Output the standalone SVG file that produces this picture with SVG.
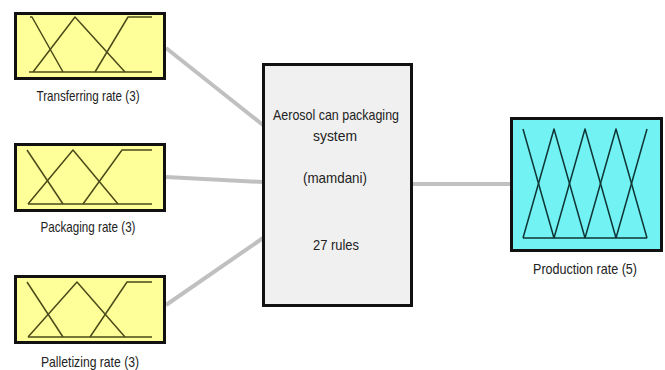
<svg xmlns="http://www.w3.org/2000/svg" width="665" height="370" viewBox="0 0 665 370">
<style>
.in{fill:#ffff99;stroke:#111;stroke-width:3}
.out{fill:#72f2f2;stroke:#111;stroke-width:3}
.sys{fill:#f0f0f0;stroke:#111;stroke-width:3}
.mf{fill:none;stroke:#4a4a1a;stroke-width:1.5;stroke-linejoin:round}
.mfo{fill:none;stroke:#0f3535;stroke-width:1.5;stroke-linejoin:round}
.conn{stroke:#c0c0c0;stroke-width:4;fill:none}
text{font-family:"Liberation Sans",Arial,sans-serif;font-size:14.5px;fill:#222;text-anchor:middle}
</style>
<rect width="665" height="370" fill="#ffffff"/>
<g id="connectors">
<line class="conn" x1="166" y1="48" x2="263" y2="125"/>
<line class="conn" x1="166" y1="177" x2="263" y2="182"/>
<line class="conn" x1="166" y1="305" x2="263" y2="238"/>
<line class="conn" x1="412" y1="184" x2="511" y2="184"/>
</g>
<g id="transferring">
<rect class="in" x="15.5" y="13.5" width="149" height="65"/>
<polyline class="mf" points="29,72 152,72"/>
<polyline class="mf" points="30,17 32,17 63,72"/>
<polyline class="mf" points="33,72 75,17 125,72"/>
<polyline class="mf" points="95,72 128,17 152,17"/>
<text x="88" y="101" textLength="103" lengthAdjust="spacingAndGlyphs">Transferring rate (3)</text>
</g>
<g id="packaging">
<rect class="in" x="15.5" y="144.5" width="149" height="66"/>
<polyline class="mf" points="28,204 152,204"/>
<polyline class="mf" points="27,150 63,204"/>
<polyline class="mf" points="28,204 73,150 118,204"/>
<polyline class="mf" points="83,204 122,150 152,150"/>
<text x="88" y="232" textLength="95" lengthAdjust="spacingAndGlyphs">Packaging rate (3)</text>
</g>
<g id="palletizing">
<rect class="in" x="15.5" y="276.5" width="149" height="66"/>
<polyline class="mf" points="28,337 152,337"/>
<polyline class="mf" points="27,282 63,337"/>
<polyline class="mf" points="28,337 77,282 125,337"/>
<polyline class="mf" points="90,337 127,282 152,282"/>
<text x="90" y="367" textLength="98" lengthAdjust="spacingAndGlyphs">Palletizing rate (3)</text>
</g>
<g id="system">
<rect class="sys" x="263.5" y="64.5" width="148" height="241"/>
<text x="336" y="120" textLength="126" lengthAdjust="spacingAndGlyphs">Aerosol can packaging</text>
<text x="335" y="141" textLength="44" lengthAdjust="spacingAndGlyphs">system</text>
<text x="335" y="183" textLength="64" lengthAdjust="spacingAndGlyphs">(mamdani)</text>
<text x="336" y="250" textLength="46" lengthAdjust="spacingAndGlyphs">27 rules</text>
</g>
<g id="production">
<rect class="out" x="511.5" y="118.5" width="150" height="132"/>
<polyline class="mfo" points="523,238 647,238"/>
<polyline class="mfo" points="523,129 554,238"/>
<polyline class="mfo" points="523,238 554,129 585,238"/>
<polyline class="mfo" points="554,238 585,129 616,238"/>
<polyline class="mfo" points="585,238 616,129 647,238"/>
<polyline class="mfo" points="616,238 647,129"/>
<text x="585" y="274" textLength="104" lengthAdjust="spacingAndGlyphs">Production rate (5)</text>
</g>
</svg>
